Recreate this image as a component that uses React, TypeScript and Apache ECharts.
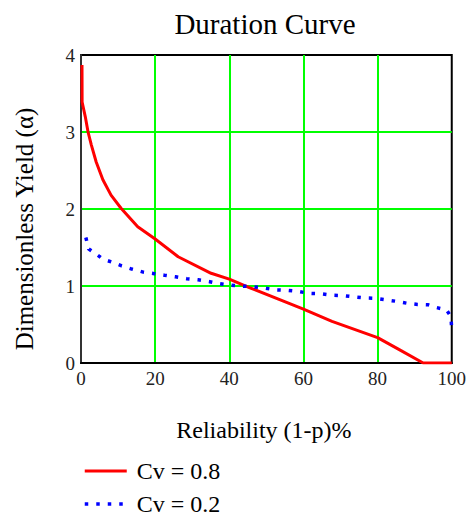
import React, { useEffect, useRef } from "react";
import * as echarts from "echarts";

const titleText = "Duration Curve";
const xName = "Reliability (1-p)%";
const yName = "Dimensionless Yield (α)";
const seriesNames = ["Cv = 0.8", "Cv = 0.2"];

// Cv = 0.8 curve: [reliability %, yield]
const redData: [number, number][] = [
  [0.27, 3.87], [0.3, 3.39], [1.15, 3.2], [1.9, 3.0], [2.8, 2.83], [4.1, 2.61],
  [5.9, 2.38], [8.1, 2.18], [10.8, 2.01], [15.3, 1.77], [20, 1.61], [26.2, 1.38],
  [35.1, 1.165], [40, 1.09], [45.4, 0.98], [60, 0.7], [67.7, 0.54], [80, 0.33],
  [85.6, 0.18], [92.3, 0.0], [100, 0.0],
];

// Cv = 0.2 curve
const blueData: [number, number][] = [
  [1.3, 1.63], [2.1, 1.48], [4.1, 1.415], [5.9, 1.35], [8.4, 1.31], [11, 1.26],
  [13.7, 1.22], [16.8, 1.18], [19.8, 1.16], [22.5, 1.14], [25.5, 1.12], [28.5, 1.095],
  [31.6, 1.08], [34.7, 1.056], [37.3, 1.03], [40.2, 1.01], [43.1, 1.0], [46.3, 0.99],
  [49.4, 0.975], [52.3, 0.95], [55.5, 0.945], [58.5, 0.93], [61.5, 0.905], [64.6, 0.9],
  [67.7, 0.88], [70.7, 0.875], [73.4, 0.86], [76.4, 0.845], [79.4, 0.84], [82.3, 0.82],
  [85.2, 0.8], [88.1, 0.775], [90.8, 0.76], [93.7, 0.755], [95.9, 0.72], [98.6, 0.69],
  [99.8, 0.6], [100, 0.42],
];

const FONT = "'Liberation Serif', 'Times New Roman', serif";

export default function App() {
  const ref = useRef<HTMLDivElement>(null);
  useEffect(() => {
    if (!ref.current) return;
    const chart = echarts.init(ref.current, undefined, { renderer: "svg" });
    chart.setOption({
      animation: false,
      backgroundColor: "#fff",
      title: {
        text: titleText,
        left: 260,
        textAlign: "center",
        top: 4,
        textStyle: { fontFamily: FONT, fontSize: 29, fontWeight: "normal", color: "#000" },
      },
      legend: {
        orient: "vertical",
        left: 78,
        top: 454,
        height: 90,
        itemWidth: 42,
        itemHeight: 14,
        itemGap: 9,
        data: seriesNames,
        itemStyle: { opacity: 0 },
        lineStyle: { width: "inherit", type: "inherit" },
        textStyle: { fontFamily: FONT, fontSize: 24, lineHeight: 22, color: "#000", padding: [0, 0, 0, 5] },
      },
      grid: {
        left: 81,
        top: 55,
        right: 16,
        bottom: 154,
        show: true,
        borderColor: "#000",
        borderWidth: 2,
        backgroundColor: "transparent",
      },
      xAxis: {
        type: "value",
        min: 0,
        max: 100,
        interval: 20,
        name: xName,
        nameLocation: "middle",
        nameGap: 55,
        nameTextStyle: { fontFamily: FONT, fontSize: 24, color: "#000", padding: [0, 5, 0, 0] },
        axisLine: { show: true, lineStyle: { color: "#000", width: 2 } },
        axisTick: { show: false },
        axisLabel: { fontFamily: FONT, fontSize: 19, color: "#222", margin: 6 },
        splitLine: { show: true, showMinLine: false, showMaxLine: false, lineStyle: { color: "#00ff00", width: 2 } },
      },
      yAxis: {
        type: "value",
        min: 0,
        max: 4,
        interval: 1,
        name: yName,
        nameLocation: "middle",
        nameGap: 44,
        nameTextStyle: { fontFamily: FONT, fontSize: 25, color: "#000", padding: [0, 40, 0, 0] },
        axisLine: { show: true, lineStyle: { color: "#333", width: 2 } },
        axisTick: { show: false },
        axisLabel: { fontFamily: FONT, fontSize: 19, color: "#222", margin: 6 },
        splitLine: { show: true, showMinLine: false, showMaxLine: false, lineStyle: { color: "#00ff00", width: 2 } },
      },
      series: [
        {
          name: seriesNames[0],
          type: "line",
          data: redData,
          symbol: "none",
          lineStyle: { color: "#ff0000", width: 3 },
          itemStyle: { color: "#ff0000" },
          z: 3,
        },
        {
          name: seriesNames[1],
          type: "line",
          data: blueData,
          symbol: "none",
          lineStyle: { color: "#0000ff", width: 3.5, type: [3.5, 8] },
          itemStyle: { color: "#0000ff" },
          z: 4,
        },
      ],
    });
    return () => chart.dispose();
  }, []);
  return <div ref={ref} style={{ width: 469, height: 517, position: "absolute", left: 0, top: 0 }} />;
}
